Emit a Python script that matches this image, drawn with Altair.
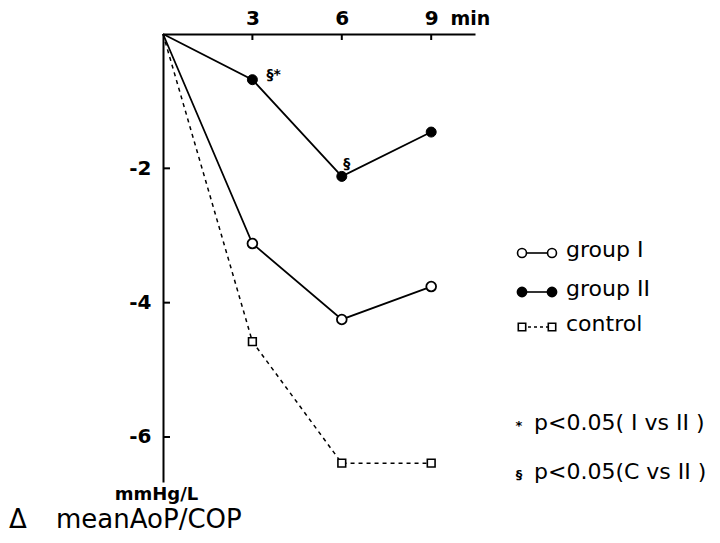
import altair as alt
import pandas as pd

# ---- data ----
minutes = [0, 3, 6, 9]
group1 = [0, -3.12, -4.25, -3.76]
group2 = [0, -0.68, -2.12, -1.46]
control = [0, -4.58, -6.39, -6.39]

x_ticks = [3, 6, 9]
y_ticks = [-2, -4, -6]

ann_x = [3, 6]
ann_y = [-0.68, -2.12]
ann_text = ["§*", "§"]

series_names = ["group I", "group II", "control"]
note_symbols = ["*", "§"]
note_texts = ["p<0.05( I vs II )", "p<0.05(C vs II )"]

FONT = "DejaVu Sans"
W, H = 312, 448
PAD = {"left": 163, "top": 34, "right": 245, "bottom": 61}

xs = alt.Scale(domain=[0, 10.47], nice=False, zero=False)
ys = alt.Scale(domain=[-6.67, 0], nice=False, zero=False)

x_axis = alt.Axis(
    orient="top", values=x_ticks, ticks=False, grid=False,
    domainColor="black", domainWidth=2,
    labelFont=FONT, labelFontSize=20, labelFontWeight="bold", labelColor="black",
    labelPadding=6,
    title="min", titleX=287, titleY=-16, titleAlign="left", titleBaseline="middle",
    titleFont=FONT, titleFontSize=19, titleFontWeight="bold", titleColor="black",
)
y_axis = alt.Axis(
    orient="left", values=y_ticks, ticks=False, grid=False,
    domainColor="black", domainWidth=2,
    labelFont=FONT, labelFontSize=20, labelFontWeight="bold", labelColor="black",
    labelPadding=12, labelExpr="'' + datum.value",
    title="mmHg/L", titleAngle=0, titleX=-7, titleY=460,
    titleAlign="center", titleBaseline="middle",
    titleFont=FONT, titleFontSize=18, titleFontWeight="bold", titleColor="black",
)

X = lambda f="t": alt.X(f + ":Q", scale=xs, axis=x_axis)
Y = lambda f="v": alt.Y(f + ":Q", scale=ys, axis=y_axis)

df1 = pd.DataFrame({"t": minutes, "v": group1})
df2 = pd.DataFrame({"t": minutes, "v": group2})
dfc = pd.DataFrame({"t": minutes, "v": control})

layers = []
layers.append(alt.Chart(df1).mark_line(color="black", strokeWidth=1.8).encode(x=X(), y=Y()))
layers.append(alt.Chart(df2).mark_line(color="black", strokeWidth=1.8).encode(x=X(), y=Y()))
layers.append(alt.Chart(dfc).mark_line(color="black", strokeWidth=1.5, strokeDash=[4, 4]).encode(x=X(), y=Y()))
layers.append(alt.Chart(df1[df1.t > 0]).mark_point(
    shape="circle", filled=True, fill="white", stroke="black", strokeWidth=1.8,
    size=95, opacity=1).encode(x=X(), y=Y()))
layers.append(alt.Chart(df2[df2.t > 0]).mark_point(
    shape="circle", filled=True, fill="black", stroke="black", strokeWidth=1,
    size=100, opacity=1).encode(x=X(), y=Y()))
layers.append(alt.Chart(dfc[dfc.t > 0]).mark_point(
    shape="square", filled=True, fill="white", stroke="black", strokeWidth=1.6,
    size=60, opacity=1).encode(x=X(), y=Y()))

# axis ticks pointing into the plot
layers.append(alt.Chart(pd.DataFrame({"t": x_ticks})).mark_rule(color="black", strokeWidth=2).encode(
    x=X(), y=alt.value(0), y2=alt.value(6)))
layers.append(alt.Chart(pd.DataFrame({"v": y_ticks})).mark_rule(color="black", strokeWidth=2).encode(
    y=Y(), x=alt.value(0), x2=alt.value(7)))

# significance annotations
ann = pd.DataFrame({"t": ann_x, "v": ann_y, "s": ann_text})
ann_offsets = [(14, -5), (5, -12)]
for i, (dx, dy) in enumerate(ann_offsets):
    layers.append(alt.Chart(ann.iloc[[i]]).mark_text(
        align="left" if i == 0 else "center", baseline="middle", dx=dx, dy=dy,
        font=FONT, fontSize=14, fontWeight="bold", color="black").encode(
        x=X(), y=Y(), text="s:N"))

# custom legend (pixel positions relative to plot origin)
leg_rows = [219, 258, 293]
sx1, sx2, tx = 359, 389, 403
styles = [
    dict(shape="circle", fill="white", size=80, dash=None),
    dict(shape="circle", fill="black", size=85, dash=None),
    dict(shape="square", fill="white", size=55, dash=[3, 3]),
]
for name, yy, st in zip(series_names, leg_rows, styles):
    rule_kw = dict(color="black", strokeWidth=1.6)
    if st["dash"]:
        rule_kw["strokeDash"] = st["dash"]
    layers.append(alt.Chart(pd.DataFrame({"s": [name]})).mark_rule(**rule_kw).encode(
        x=alt.value(sx1), x2=alt.value(sx2), y=alt.value(yy)))
    for sx in (sx1, sx2):
        layers.append(alt.Chart(pd.DataFrame({"s": [name]})).mark_point(
            shape=st["shape"], filled=True, fill=st["fill"], stroke="black",
            strokeWidth=1.6, size=st["size"], opacity=1).encode(
            x=alt.value(sx), y=alt.value(yy)))
    layers.append(alt.Chart(pd.DataFrame({"s": [name]})).mark_text(
        align="left", baseline="middle", font=FONT, fontSize=22, color="black").encode(
        x=alt.value(tx), y=alt.value(yy - 3), text="s:N"))

# p-value notes
note_rows = [389, 438]
for sym, txt, yy in zip(note_symbols, note_texts, note_rows):
    layers.append(alt.Chart(pd.DataFrame({"s": [sym]})).mark_text(
        align="center", baseline="middle", font=FONT, fontSize=13, fontWeight="bold", color="black").encode(
        x=alt.value(356), y=alt.value(yy + 3), text="s:N"))
    layers.append(alt.Chart(pd.DataFrame({"s": [txt]})).mark_text(
        align="left", baseline="middle", font=FONT, fontSize=22, color="black").encode(
        x=alt.value(371), y=alt.value(yy), text="s:N"))

# bottom caption
layers.append(alt.Chart(pd.DataFrame({"s": ["Δ"]})).mark_text(
    align="left", baseline="middle", font=FONT, fontSize=26, color="black").encode(
    x=alt.value(-154), y=alt.value(486), text="s:N"))
layers.append(alt.Chart(pd.DataFrame({"s": ["meanAoP/COP"]})).mark_text(
    align="left", baseline="middle", font=FONT, fontSize=26, color="black").encode(
    x=alt.value(-107), y=alt.value(486), text="s:N"))

chart = alt.layer(*layers).properties(
    width=W, height=H, padding=PAD,
    autosize=alt.AutoSizeParams(type="none"),
    background="white",
).configure_view(stroke=None)

chart.save("out.html", embed_options={"renderer": "svg", "actions": False})
